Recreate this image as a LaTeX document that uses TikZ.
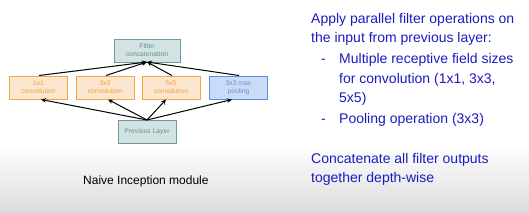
\documentclass[tikz,border=0pt]{standalone}
\usepackage{fontspec}
\setmainfont{Liberation Sans}
\usetikzlibrary{arrows.meta}
\definecolor{tealfill}{HTML}{D3E3E3}
\definecolor{tealdraw}{HTML}{6E9C9C}
\definecolor{tealtext}{HTML}{6A8E8E}
\definecolor{orfill}{HTML}{FCE6CF}
\definecolor{ordraw}{HTML}{F2A93B}
\definecolor{ortext}{HTML}{EFA23A}
\definecolor{blfill}{HTML}{C9DBF6}
\definecolor{bldraw}{HTML}{5B8FE0}
\definecolor{bltext}{HTML}{6C92D2}
\definecolor{slideblue}{HTML}{1C1CC0}
\tikzset{
  box/.style={draw, line width=1pt, minimum height=23pt, align=center, inner sep=0pt,
    font=\fontsize{6.8}{8}\selectfont},
  tealbox/.style={box, fill=tealfill, draw=tealdraw, text=tealtext},
  orbox/.style={box, fill=orfill, draw=ordraw, text=ortext, minimum width=58pt},
  blbox/.style={box, fill=blfill, draw=bldraw, text=bltext, minimum width=58pt},
  arr/.style={-{Stealth[length=5pt,width=4.5pt]}, line width=1pt, black},
  slide/.style={anchor=base west, inner sep=0pt, text=slideblue, font=\fontsize{14}{16}\selectfont},
}
\begin{document}
\begin{tikzpicture}[x=1pt,y=-1pt]
\useasboundingbox (0,0) rectangle (529,212);
\fill[white] (0,0) rectangle (529,146);
\shade[top color=white, bottom color=gray!28] (0,146) rectangle (529,212);
% boxes
\node[tealbox, minimum width=66pt] (fc) at (147,50.5) {Filter\\concatenation};
\node[orbox] (c1) at (38.5,87.5) {1x1\\convolution};
\node[orbox] (c3) at (105,87.5) {3x3\\convolution};
\node[orbox] (c5) at (171,87.5) {5x5\\convolution};
\node[blbox] (mp) at (238.5,87.5) {3x3 max\\pooling};
\node[tealbox, minimum width=58pt] (pl) at (147,131.5) {Previous Layer};
% arrows
\coordinate (plt) at (147,120);
\coordinate (fcb) at (147,62);
\draw[arr] (plt) -- (c1.south -| 41,0);
\draw[arr] (plt) -- (c3.south -| 108,0);
\draw[arr] (plt) -- (c5.south -| 166,0);
\draw[arr] (plt) -- (mp.south -| 232,0);
\draw[arr] (c1.north -| 39,0) -- (fcb);
\draw[arr] (c3.north -| 106,0) -- (fcb);
\draw[arr] (c5.north -| 172,0) -- (fcb);
\draw[arr] (mp.north -| 239,0) -- (fcb);
% caption
\node[anchor=base west, inner sep=0pt, font=\fontsize{12}{14}\selectfont] (cap) at (83,184) {Naive Inception module};
% slide text
\node[slide] (t1) at (311,23) {Apply parallel filter operations on};
\node[slide] (t2) at (311,42.5) {the input from previous layer:};
\node[slide] (d1) at (321,63) {-};
\node[slide] (t3) at (339,63) {Multiple receptive field sizes};
\node[slide] (t4) at (339,83) {for convolution (1x1, 3x3,};
\node[slide] (t5) at (339,102.5) {5x5)};
\node[slide] (d2) at (321,123) {-};
\node[slide] (t6) at (339,123) {Pooling operation (3x3)};
\node[slide] (t7) at (311,163) {Concatenate all filter outputs};
\node[slide] (t8) at (311,182.5) {together depth-wise};
\end{tikzpicture}
\end{document}
